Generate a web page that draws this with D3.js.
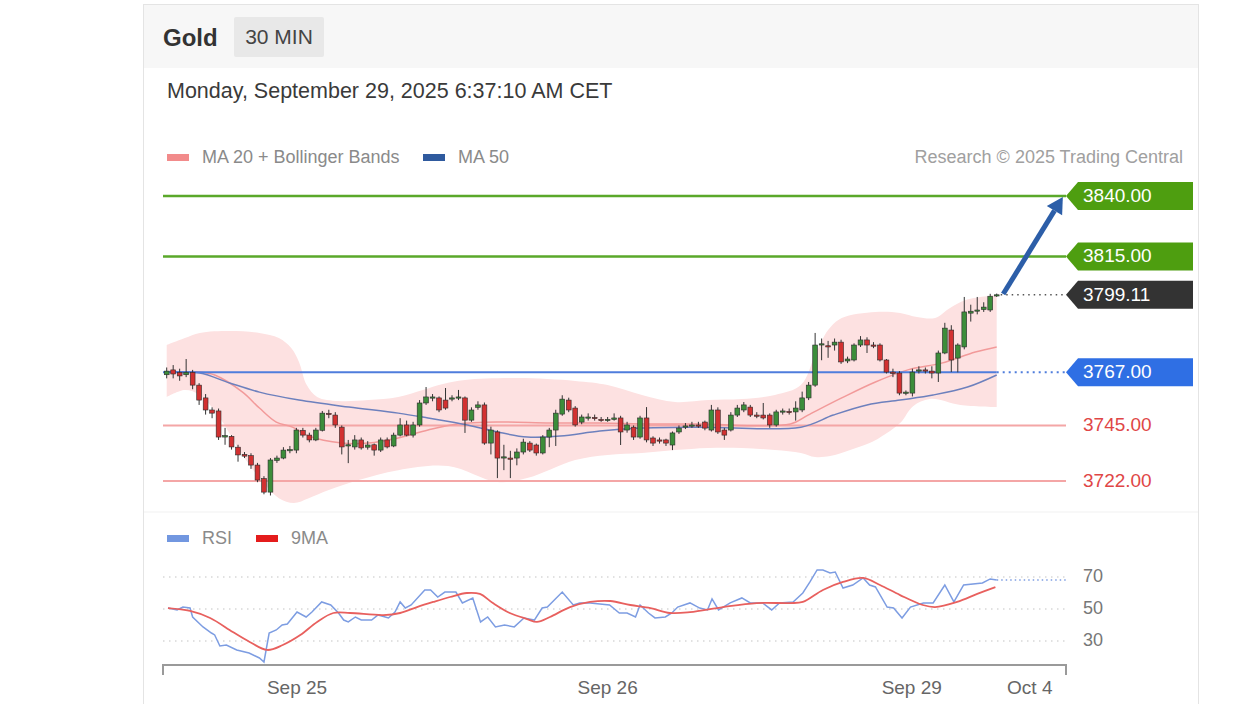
<!DOCTYPE html>
<html>
<head>
<meta charset="utf-8">
<script src="https://cdn.jsdelivr.net/npm/d3@7"></script>
<style>
  body { margin: 0; background: #fff; }
  svg { font-family: "Liberation Sans", Arial, sans-serif; }
</style>
</head>
<body>
<svg id="chart" width="1252" height="704"></svg>
<script>
// 30 min candles, [open, high, low, close]
const candles = [
  [3766,3769,3764.5,3767.5],[3768,3770,3764.5,3766.3],[3767,3768.5,3763.5,3765.5],[3766,3772.5,3765,3767],
  [3767,3768,3760,3761.7],[3761.7,3762.5,3753.5,3755.5],[3756.4,3758,3749.5,3751.4],[3751.4,3752.5,3748,3750.1],
  [3751,3752,3739,3740.2],[3740.2,3744,3737,3740.8],[3740.5,3741,3735,3736.1],[3736,3737,3730,3732.8],
  [3733,3734,3731.5,3732.3],[3732.5,3733.5,3727,3728.6],[3728.6,3729.5,3721.5,3722.4],[3723,3724,3716.5,3717.4],
  [3717.4,3731.5,3716,3730.7],[3730.5,3732.5,3729.5,3731.5],[3731.5,3736,3731,3734.8],[3734.8,3736.5,3733.5,3735],
  [3734.8,3744,3733.5,3743.1],[3743,3744,3740,3741],[3741,3742,3738,3739],[3739,3744,3738.5,3743.1],
  [3743,3751,3742.5,3750.1],[3750,3751.5,3748,3749.5],[3749.3,3750.5,3744,3745.2],[3744.3,3745,3733,3736.1],
  [3736.5,3739,3729.4,3737],[3736.1,3741,3735,3739],[3739,3740,3735,3735.7],[3736,3738.5,3735,3736.9],
  [3737,3737.5,3732.5,3734.8],[3734.8,3740,3734,3739],[3739,3740,3735.5,3736.1],[3736.5,3742,3736,3741],
  [3741,3748,3740.5,3745.2],[3745.2,3747,3740.5,3741],[3741,3746.5,3740,3745.2],[3745.2,3755.5,3744.5,3754.3],
  [3754.3,3760.9,3753.5,3756.8],[3756.4,3758,3755,3756.8],[3756.4,3757,3750.5,3751.4],[3755.5,3760.5,3751.5,3752.2],
  [3756,3757.5,3755,3756.4],[3756.4,3759.7,3755.5,3756.8],[3756.4,3757,3741.9,3747.2],[3747.2,3752.5,3746.5,3751.4],
  [3752.5,3755,3751.5,3753.5],[3753.5,3754.5,3737,3737.7],[3737.7,3744.5,3733,3743.1],[3742.3,3743,3723.2,3731.5],
  [3731.5,3737,3726.5,3732],[3731.5,3734.5,3723.2,3731],[3731.5,3735.5,3728.5,3734],[3734,3739.5,3733,3738.1],
  [3737.7,3738.5,3734,3734.8],[3736.9,3737.5,3732.5,3733.6],[3733.6,3741,3733,3740.2],[3740.2,3744,3736,3743.1],
  [3743.1,3751.5,3736.5,3750.1],[3749.7,3757.5,3749,3755.9],[3755.5,3756.5,3750.5,3751.4],[3752.2,3753,3744.5,3745.2],
  [3746.4,3749.5,3745.5,3748.5],[3748.1,3750,3747,3748.5],[3748.3,3749.5,3747,3748],[3747.5,3748.5,3746.5,3747.2],
  [3747.2,3748.5,3746.5,3747.5],[3747.5,3750,3747,3748.1],[3748.1,3749,3736.9,3742.3],[3743.1,3746.5,3742,3745.2],
  [3744.3,3745,3739,3740.2],[3740.2,3749,3739.5,3748.1],[3748.1,3752.6,3738,3739],[3739.8,3740.5,3736.5,3737.7],
  [3739,3740,3737.5,3738.6],[3739,3739.5,3736.5,3737.7],[3736.9,3742.5,3734.8,3741.9],[3742.3,3745,3741.5,3743.9],
  [3744.3,3746,3743.5,3744.8],[3745,3746.5,3744,3745.2],[3745.2,3746.5,3744,3745],[3746.4,3747,3743,3743.9],
  [3743.1,3753.5,3742.5,3751.4],[3751.4,3752.5,3741.5,3742.3],[3743.1,3744,3739,3741],[3743.1,3750.5,3742.5,3749.3],
  [3749.3,3753.5,3748.5,3752.2],[3751.4,3754.7,3750.5,3753.5],[3752.6,3753.5,3748.5,3749.3],[3749.3,3750.5,3748,3749],
  [3749.3,3754.3,3747.5,3748.1],[3749.3,3750,3744,3745.2],[3745.2,3751.5,3744.5,3750.6],[3750.6,3752,3749.5,3751],
  [3750.8,3752,3749.5,3750.4],[3750.6,3755,3747,3752.2],[3751.4,3759,3750.5,3756.4],[3756.4,3763,3755.5,3761.7],
  [3761.7,3783.3,3761,3778.3],[3778.3,3781,3772,3778.8],[3778,3780,3773,3777.5],[3778.3,3781,3776,3779.5],
  [3779.5,3780.5,3770.5,3771.3],[3771.7,3773.5,3770.8,3772.5],[3772.1,3779,3771.5,3778.3],[3778.3,3782,3777.5,3780.4],
  [3780.4,3781.5,3775,3778.3],[3778.3,3779.5,3777,3778],[3778.3,3779,3771.5,3772.1],[3772.1,3772.5,3766.5,3767.1],
  [3767.1,3768.5,3765,3766.5],[3766.7,3767.5,3757.5,3758.4],[3758.4,3759.5,3757.5,3758.8],[3758.4,3768.5,3757,3767.1],
  [3767.5,3769.5,3766.5,3768],[3768,3769,3766.5,3767.5],[3767.5,3769.5,3764.5,3766.7],[3766.7,3776,3763,3775],
  [3775,3787.5,3774.5,3785.3],[3784.5,3786.5,3767.1,3772.1],[3772.9,3779,3767,3778.3],[3777.5,3798.2,3776.5,3792],
  [3791.5,3795,3788,3792.3],[3792.5,3798.2,3791,3792.8],[3793,3796,3792,3794],[3792.8,3799.5,3792,3798.5],
  [3798.6,3799.6,3798.2,3799.1]
];

// Bollinger bands, MA 20, MA 50 read at [candle index, price]
const upperBand = [[0,3778.3],[2.8,3781.2],[5.1,3783.3],[9.7,3784.1],[14.3,3783.3],[17.3,3781.2],[19.2,3777.1],
  [20.4,3771.3],[21.6,3761.7],[23.2,3756.8],[26.5,3755.1],[31.1,3755.5],[35.7,3756.8],[39.5,3759.7],[42.6,3762.2],
  [46,3763.8],[54.1,3764.6],[63,3763.4],[68,3761.7],[73.3,3757.6],[78.4,3754.7],[83.5,3755.5],[88.7,3755.9],
  [93.8,3757.6],[97.8,3761.7],[100,3774.2],[102,3784.5],[104.1,3789.5],[109.3,3792],[113.1,3791.6],[115.7,3789.9],
  [118.5,3789.5],[120.8,3793.6],[123.2,3796.9],[128,3799]];
const lowerBand = [[0,3756.8],[2.8,3759.7],[5.1,3757.6],[8.2,3748.1],[11.2,3734.8],[14.3,3723.2],[17.3,3714.9],
  [19.6,3712.9],[21.9,3714.9],[25,3718.3],[29.6,3722.4],[35.7,3726.5],[43.4,3728.2],[51,3721.6],[55.6,3723.2],
  [63,3730.7],[68,3732.8],[73.3,3733.6],[78.4,3734.8],[83.5,3735.7],[88.7,3735.7],[93.8,3734.8],[97.8,3733.6],
  [100,3731.9],[102.3,3732.3],[105.4,3734.8],[108.4,3737.7],[110,3740],[113.1,3746],[115.1,3753],[117.7,3756],
  [122.4,3753.5],[128,3752.6]];
const ma20 = [[0,3767.1],[5.1,3767.1],[7.4,3765.9],[11.7,3758.8],[14.3,3752.2],[16.9,3746.4],[19.4,3744.3],
  [21.9,3740.6],[27,3737.7],[31.1,3737.7],[35.7,3739.8],[40.3,3743.1],[44.9,3745.6],[51,3746.4],[59.2,3746],
  [66.8,3746],[74.5,3745.6],[82.2,3745.6],[96.2,3745.6],[98.9,3749.3],[104.1,3756.4],[109.3,3763],[114.3,3768],
  [119.5,3770.8],[124.7,3775.4],[128,3777.5]];
const ma50 = [[0,3767.1],[5.1,3766.7],[9.7,3762.6],[14.3,3758.8],[20.4,3755.5],[28.1,3752.6],[35.7,3750.1],
  [40.3,3748.1],[46.4,3745.2],[51,3742.3],[55.6,3740.2],[60.7,3740.6],[66.8,3742.7],[73,3743.9],[82.2,3744.3],
  [97.8,3744.3],[102.8,3749.3],[108,3753.5],[113.1,3755.5],[118.2,3757.6],[123.5,3760.9],[128,3765.9]];

// RSI and its 9 period MA, [candle index, value]
const rsi = [[0.2,50.6],[1.6,49.4],[2.5,51.2],[3.6,50.6],[4,45],[5.6,38.8],[6.9,35],[7.4,33.8],[8.2,26.9],
  [9.2,27.5],[10.8,24.4],[12.7,22.5],[14.3,19.4],[15,16.9],[15.8,35],[16.9,36.9],[17.8,40],[18.6,40.6],[20.1,48.1],
  [21.5,45],[22.4,48.1],[23.9,54.4],[25.3,52.5],[26.5,47.5],[27.3,43.1],[28,41.9],[29.1,45],[30,43.1],[31.6,43.1],
  [32.6,46.3],[34.2,44.4],[35.2,48.1],[36,54.4],[36.8,50.6],[37.7,52.5],[39.8,61.9],[40.7,61.9],[41.8,57.5],
  [42.9,60.6],[44.6,60.6],[45.6,53.8],[47.2,56.9],[48.4,41.9],[49.5,45],[50.7,38.8],[52.1,40],[53.6,38.8],
  [55.1,44.4],[56.7,43.1],[57.9,50.6],[58.7,51.2],[61,60.6],[62.7,52.5],[63.7,53.8],[65.3,53.8],[68.3,52.5],
  [69.8,47.5],[71,47.5],[72.3,45],[73,52.5],[74.3,47.5],[75.3,44.4],[76.9,45],[77.9,47.5],[78.8,51.2],[80.7,53.8],
  [82.2,50.6],[83.4,49.4],[84.1,56.3],[85.1,49.4],[86.9,53.8],[88.7,56.9],[90,53.8],[91.9,53.8],[93.3,49.4],
  [94.5,53.8],[96.6,54.4],[98.1,60],[99.2,66.9],[100.3,74.4],[101.2,74.4],[102.3,72.5],[103.1,73.1],[104.3,63.1],
  [105.8,65],[107.4,69.4],[108.4,65],[109.3,63.8],[111.1,51.2],[112.1,50.6],[113.4,44.4],[114.7,51.2],[116.7,53.8],
  [118.2,53.8],[120,65],[121.4,54.4],[122.9,65],[125.8,66.3],[127,68.8],[128,68.1]];
const rsiMa = [[0.2,50.6],[3.6,48.8],[6.7,44.4],[10.2,35.6],[12.8,29.4],[15.5,24.4],[17.9,27.5],[20.6,33.7],
  [23.2,41.9],[25.7,47.5],[28.3,47.5],[33.4,46.2],[36,47.5],[38.6,51.2],[41.1,54.4],[43.7,57.5],[46.3,60],
  [48.3,59.4],[50.3,53.7],[52.9,47.5],[55.6,43.7],[57.1,41.9],[59.1,45],[62.2,51.2],[65.3,54.4],[68.4,55],
  [71.5,52.5],[74.6,50.6],[77.6,47.5],[80.7,48],[85.8,51.2],[91,53.7],[96.1,53.7],[98.1,54.4],[101.2,61.9],
  [104.3,66.9],[107.4,69.4],[110,65],[113.1,58.7],[116.6,52.5],[118.5,51.2],[121.9,54.4],[125,59.4],[127.8,63.7]];

const resistances = [3840, 3815];
const pivot = 3767;
const supports = [3745, 3722];
const lastPrice = 3799.11;
const rsiLevels = [70, 50, 30];
const dateTicks = [[20.1, 'Sep 25'], [68, 'Sep 26'], [114.9, 'Sep 29'], [133.1, 'Oct 4']];
const arrowPath = [[129, 3799.4], [138.2, 3839.6]];

const svg = d3.select('#chart');
const plotLeft = 163, plotRight = 1066, labelX = 1066, labelRight = 1193;

const x = d3.scaleLinear().domain([0, 128]).range([166.7, 996.7]);
const y = d3.scaleLinear().domain([3722, 3840]).range([481, 196]);
const yr = d3.scaleLinear().domain([30, 70]).range([641, 577]);

// card + header
svg.append('rect').attr('x', 143.5).attr('y', 4.5).attr('width', 1055).attr('height', 720)
  .attr('fill', '#fff').attr('stroke', '#e4e4e4');
svg.append('rect').attr('x', 144).attr('y', 5).attr('width', 1054).attr('height', 63).attr('fill', '#f7f7f7');
svg.append('text').attr('x', 163).attr('y', 46).attr('font-size', 24).attr('font-weight', 'bold')
  .attr('fill', '#333').text('Gold');
svg.append('rect').attr('x', 234).attr('y', 17).attr('width', 90).attr('height', 40).attr('rx', 2).attr('fill', '#e8e8e8');
svg.append('text').attr('x', 279).attr('y', 44).attr('text-anchor', 'middle').attr('font-size', 21)
  .attr('fill', '#444').text('30 MIN');
svg.append('text').attr('x', 167).attr('y', 98).attr('font-size', 21.5).attr('fill', '#3a3a3a')
  .text('Monday, September 29, 2025 6:37:10 AM CET');

// legends
function legend(items, yy) {
  items.forEach(d => {
    svg.append('rect').attr('x', d.x).attr('y', yy - 4).attr('width', 22).attr('height', 7).attr('fill', d.color);
    svg.append('text').attr('x', d.x + 35).attr('y', yy).attr('dominant-baseline', 'middle')
      .attr('font-size', 18).attr('fill', '#8a8a8a').text(d.label);
  });
}
legend([{ x: 167, color: '#f28b8b', label: 'MA 20 + Bollinger Bands' }, { x: 423, color: '#2f5a9e', label: 'MA 50' }], 158);
svg.append('text').attr('x', 1183).attr('y', 158).attr('text-anchor', 'end').attr('dominant-baseline', 'middle')
  .attr('font-size', 18).attr('fill', '#a0a0a0').text('Research \u00a9 2025 Trading Central');

// bollinger area
const curve = d3.line().x(d => x(d[0])).y(d => y(d[1])).curve(d3.curveCatmullRom);
const lowerPath = curve(lowerBand.slice().reverse()).replace(/^M/, 'L');
svg.append('path').attr('d', curve(upperBand) + lowerPath + 'Z').attr('fill', '#fde1e1');

// support / resistance lines
resistances.forEach(v => {
  svg.append('line').attr('x1', plotLeft).attr('x2', plotRight).attr('y1', y(v)).attr('y2', y(v))
    .attr('stroke', '#5aa82a').attr('stroke-width', 2.5);
});
supports.forEach(v => {
  svg.append('line').attr('x1', plotLeft).attr('x2', plotRight).attr('y1', y(v)).attr('y2', y(v))
    .attr('stroke', '#f4a6a6').attr('stroke-width', 2);
});

// MA lines
svg.append('path').attr('d', curve(ma20)).attr('fill', 'none').attr('stroke', '#f29a9a').attr('stroke-width', 1.5);
svg.append('path').attr('d', curve(ma50)).attr('fill', 'none').attr('stroke', '#6d80bd').attr('stroke-width', 1.5);

// pivot line
svg.append('line').attr('x1', plotLeft).attr('x2', x(128)).attr('y1', y(pivot)).attr('y2', y(pivot))
  .attr('stroke', '#4f7ddc').attr('stroke-width', 2);
svg.append('line').attr('x1', x(128)).attr('x2', plotRight).attr('y1', y(pivot)).attr('y2', y(pivot))
  .attr('stroke', '#4f7ddc').attr('stroke-width', 2).attr('stroke-dasharray', '2,4');

// candles
const cw = 4.8;
const g = svg.append('g');
g.selectAll('line.wick').data(candles).enter().append('line')
  .attr('x1', (d, i) => x(i)).attr('x2', (d, i) => x(i))
  .attr('y1', d => y(d[1])).attr('y2', d => y(d[2]))
  .attr('stroke', '#333').attr('stroke-width', 1);
g.selectAll('rect.body').data(candles).enter().append('rect')
  .attr('x', (d, i) => x(i) - cw / 2).attr('width', cw)
  .attr('y', d => y(Math.max(d[0], d[3])))
  .attr('height', d => Math.max(1.2, Math.abs(y(d[0]) - y(d[3]))))
  .attr('fill', d => d[3] >= d[0] ? '#3c8d3a' : '#d23131')
  .attr('stroke', '#2b2b2b').attr('stroke-width', 0.6);

// last price dotted line
svg.append('line').attr('x1', x(128) + 4).attr('x2', plotRight).attr('y1', y(lastPrice)).attr('y2', y(lastPrice))
  .attr('stroke', '#555').attr('stroke-width', 1.5).attr('stroke-dasharray', '1.5,4');

// arrow
const ax0 = x(arrowPath[0][0]), ay0 = y(arrowPath[0][1]);
const ax1 = x(arrowPath[1][0]), ay1 = y(arrowPath[1][1]);
const ang = Math.atan2(ay1 - ay0, ax1 - ax0);
const head = 16;
const bx = ax1 - head * Math.cos(ang), by = ay1 - head * Math.sin(ang);
svg.append('line').attr('x1', ax0).attr('y1', ay0).attr('x2', bx).attr('y2', by)
  .attr('stroke', '#2c5ea8').attr('stroke-width', 5);
svg.append('path').attr('fill', '#2c5ea8').attr('d', d3.line()([
  [ax1, ay1],
  [bx + 9 * Math.sin(ang), by - 9 * Math.cos(ang)],
  [bx - 9 * Math.sin(ang), by + 9 * Math.cos(ang)]
]) + 'Z');

// price labels
function tag(v, text, color) {
  const cy = y(v);
  svg.append('path').attr('fill', color).attr('d', d3.line()([
    [labelX, cy], [labelX + 12, cy - 14], [labelRight, cy - 14], [labelRight, cy + 14], [labelX + 12, cy + 14]
  ]) + 'Z');
  svg.append('text').attr('x', 1083).attr('y', cy + 1).attr('dominant-baseline', 'middle')
    .attr('font-size', 19).attr('fill', '#fff').text(text);
}
resistances.forEach(v => tag(v, v.toFixed(2), '#4e9e10'));
tag(lastPrice, lastPrice.toFixed(2), '#333333');
tag(pivot, pivot.toFixed(2), '#2f6fe4');
supports.forEach(v => {
  svg.append('text').attr('x', 1083).attr('y', y(v) + 1).attr('dominant-baseline', 'middle')
    .attr('font-size', 19).attr('fill', '#e04646').text(v.toFixed(2));
});

// panel divider
svg.append('line').attr('x1', 144).attr('x2', 1198).attr('y1', 512).attr('y2', 512).attr('stroke', '#f1f1f1');

// RSI panel
legend([{ x: 167, color: '#7297e0', label: 'RSI' }, { x: 256, color: '#e41c1c', label: '9MA' }], 539);
rsiLevels.forEach(v => {
  svg.append('line').attr('x1', plotLeft).attr('x2', plotRight).attr('y1', yr(v)).attr('y2', yr(v))
    .attr('stroke', '#c4c4c4').attr('stroke-width', 1.2).attr('stroke-dasharray', '1.5,4.5');
  svg.append('text').attr('x', 1083).attr('y', yr(v)).attr('dominant-baseline', 'middle')
    .attr('font-size', 18).attr('fill', '#777').text(v);
});
const rline = d3.line().x(d => x(d[0])).y(d => yr(d[1]));
svg.append('path').attr('d', rline(rsi)).attr('fill', 'none').attr('stroke', '#7d9de2').attr('stroke-width', 1.5);
svg.append('line').attr('x1', x(128)).attr('x2', plotRight).attr('y1', yr(rsi[rsi.length - 1][1]))
  .attr('y2', yr(rsi[rsi.length - 1][1])).attr('stroke', '#7d9de2').attr('stroke-width', 1.5)
  .attr('stroke-dasharray', '1.5,3');
svg.append('path').attr('d', rline.curve(d3.curveCatmullRom)(rsiMa)).attr('fill', 'none')
  .attr('stroke', '#e8605e').attr('stroke-width', 1.8);

// date axis
const axisY = 665;
svg.append('path').attr('fill', 'none').attr('stroke', '#9a9a9a').attr('stroke-width', 2)
  .attr('d', `M${plotLeft},${axisY + 10}V${axisY}H${plotRight}V${axisY + 10}`);
dateTicks.forEach(t => {
  svg.append('text').attr('x', x(t[0])).attr('y', 689).attr('text-anchor', 'middle')
    .attr('dominant-baseline', 'middle').attr('font-size', 19).attr('fill', '#666').text(t[1]);
});
</script>
</body>
</html>
